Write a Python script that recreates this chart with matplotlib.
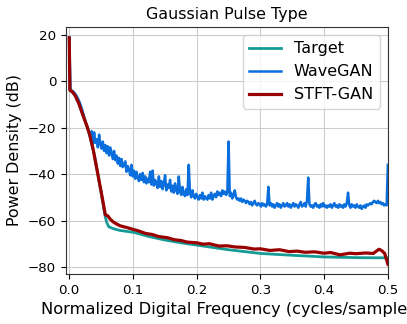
import numpy as np
import matplotlib
matplotlib.use("Agg")
import matplotlib.pyplot as plt

# Target spectrum (smooth)
target_freq = [0.0, 0.001, 0.005, 0.009, 0.015, 0.0225, 0.028, 0.032, 0.038, 0.0435,
               0.05, 0.0566, 0.059, 0.062, 0.07, 0.08, 0.101, 0.125, 0.15, 0.175,
               0.2, 0.25, 0.3, 0.35, 0.4, 0.45, 0.5]
target_db = [18.7, -3.8, -4.6, -6.0, -9.5, -15.4, -19.5, -23.0, -30.0, -38.0,
             -48.0, -58.5, -61.0, -62.7, -63.6, -64.3, -65.1, -66.9, -68.4, -69.6,
             -70.6, -72.6, -74.2, -75.0, -75.7, -76.0, -76.1]

# STFT-GAN spectrum
stft_freq = [0.0, 0.001, 0.005, 0.009, 0.015, 0.0225, 0.028, 0.032, 0.038, 0.0435,
             0.05, 0.0566, 0.0605, 0.0645, 0.07, 0.075, 0.08, 0.09, 0.1, 0.11,
             0.12, 0.13, 0.14, 0.154, 0.165, 0.175, 0.185, 0.2, 0.21, 0.22,
             0.235, 0.248, 0.26, 0.275, 0.29, 0.3, 0.315, 0.33, 0.345, 0.358,
             0.37, 0.385, 0.4, 0.41, 0.425, 0.44, 0.45, 0.465, 0.477, 0.482,
             0.486, 0.49, 0.495, 0.5]
stft_db = [18.7, -3.8, -4.6, -6.0, -9.5, -15.4, -19.5, -23.0, -30.0, -38.0,
           -47.5, -57.5, -58.0, -59.5, -60.8, -61.6, -62.3, -63.0, -63.8, -64.6,
           -65.6, -66.0, -66.9, -67.4, -68.3, -68.6, -69.3, -69.6, -70.2, -70.0,
           -71.0, -70.9, -71.4, -71.6, -72.3, -72.2, -72.9, -72.6, -73.4, -73.2,
           -73.7, -73.5, -74.1, -73.8, -74.8, -74.1, -74.3, -74.0, -74.2, -73.2,
           -72.4, -72.9, -74.2, -78.8]

# WaveGAN spectrum, 257 bins from 0 to 0.5 cycles/sample
wavegan_freq = np.arange(257) / 512
wavegan_db = [
    19.0, -3.5, -4.0, -4.3, -4.9, -5.6, -6.4, -7.4, -8.6, -10.0, -11.6, -13.4, -15.3, -17.2, -19.0, -20.5,
    -22.0, -24.0, -21.5, -27.0, -22.0, -26.5, -25.0, -28.5, -23.0, -27.0, -29.0, -26.0, -30.0, -27.5, -31.0, -28.0,
    -32.0, -28.5, -31.0, -33.5, -30.0, -34.0, -32.0, -35.5, -33.0, -36.5, -33.5, -37.0, -36.0, -34.5, -39.0, -36.5,
    -38.0, -40.5, -36.0, -41.0, -38.5, -42.0, -39.0, -41.5, -43.0, -40.0, -42.5, -39.5, -43.5, -41.0, -44.0, -42.0,
    -43.5, -39.0, -44.5, -38.5, -45.0, -42.5, -44.0, -46.0, -41.0, -45.5, -43.0, -46.5, -44.0, -40.5, -47.0, -44.5,
    -46.0, -42.5, -47.5, -45.0, -48.0, -44.0, -47.0, -48.5, -41.0, -47.5, -49.0, -45.5, -48.5, -49.5, -46.5, -49.0,
    -36.0, -48.0, -50.0, -47.0, -49.5, -50.5, -48.5, -50.0, -51.0, -49.0, -50.5, -48.0, -51.0, -49.5, -50.5, -51.0,
    -49.0, -50.5, -48.0, -51.0, -49.5, -48.5, -50.0, -47.5, -49.0, -48.0, -49.5, -47.0, -48.5, -47.5, -49.0, -48.0,
    -26.0, -49.5, -48.0, -50.5, -49.0, -47.0, -50.0, -51.0, -50.5, -51.5, -50.5, -52.0, -51.0, -51.5, -52.5, -51.5,
    -52.0, -53.0, -52.0, -53.5, -52.5, -51.5, -53.0, -53.5, -52.5, -53.0, -54.0, -52.5, -53.5, -53.0, -54.0, -53.0,
    -45.5, -53.5, -52.5, -54.0, -53.0, -54.5, -53.5, -52.5, -54.0, -53.0, -54.5, -53.5, -52.5, -54.0, -53.5, -52.5,
    -54.0, -53.0, -54.5, -53.5, -52.5, -54.0, -53.0, -53.5, -54.5, -53.0, -52.0, -54.0, -53.5, -52.5, -54.0, -51.5,
    -41.5, -53.0, -54.0, -53.5, -54.5, -53.0, -52.5, -54.0, -53.5, -54.5, -53.0, -54.0, -52.5, -54.0, -53.5, -54.5,
    -53.5, -54.0, -53.0, -54.5, -53.5, -52.5, -54.0, -53.5, -54.5, -53.0, -54.0, -53.5, -54.5, -53.0, -54.0, -52.5,
    -48.0, -53.5, -54.5, -53.0, -54.0, -53.5, -54.5, -53.0, -54.0, -54.5, -53.5, -55.0, -54.0, -53.5, -54.5, -53.0,
    -53.5, -53.0, -52.5, -53.0, -52.0, -51.5, -52.0, -52.5, -51.5, -52.5, -52.0, -53.0, -52.5, -53.5, -53.0, -53.5,
    -36.0,
]

fig = plt.figure(figsize=(4.07, 3.24), dpi=100)
ax = fig.add_axes([0.162, 0.154, 0.791, 0.763])

ax.plot(target_freq, target_db, color='#159b96', linewidth=2.0, label='Target', zorder=3)
ax.plot(wavegan_freq, wavegan_db, color='#0a6fdc', linewidth=1.8, label='WaveGAN', zorder=2)
ax.plot(stft_freq, stft_db, color='#990000', linewidth=2.3, label='STFT-GAN', zorder=4)

ax.set_xlim(-0.0052, 0.5)
ax.set_ylim(-83.1, 23.45)
ax.set_xticks([0.0, 0.1, 0.2, 0.3, 0.4, 0.5])
ax.set_yticks([20, 0, -20, -40, -60, -80])
ax.tick_params(labelsize=9.6)
ax.grid(True, color='#cccccc')
for s in ax.spines.values():
    s.set_color('#333333')

ax.set_title('Gaussian Pulse Type', fontsize=11.4)
ax.set_xlabel('Normalized Digital Frequency (cycles/sample)', fontsize=11.7)
ax.set_ylabel('Power Density (dB)', fontsize=11.4)
ax.legend(loc='upper right', fontsize=11.5)

fig.savefig('out.png', dpi=100)
